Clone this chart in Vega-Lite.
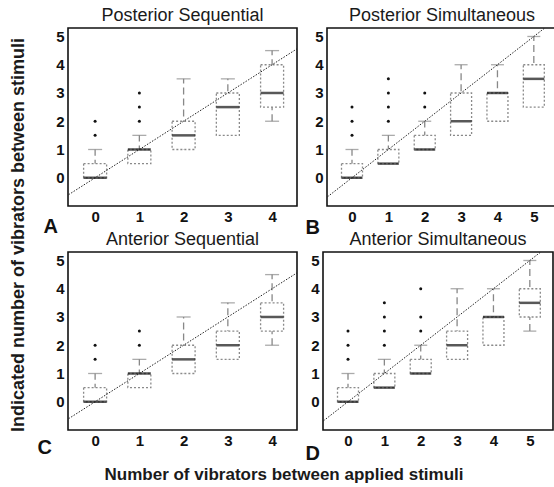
{
  "$schema": "https://vega.github.io/schema/vega-lite/v6.json",
  "padding": {"left": 10, "top": 6, "right": 0, "bottom": 0},
  "background": "white",
  "datasets": {
    "boxes": [
      {"panel": "A", "x": 0, "wlo": 0, "q1": 0, "med": 0, "q3": 0.5, "whi": 1},
      {"panel": "A", "x": 1, "wlo": 0.5, "q1": 0.5, "med": 1, "q3": 1, "whi": 1.5},
      {"panel": "A", "x": 2, "wlo": 1, "q1": 1, "med": 1.5, "q3": 2, "whi": 3.5},
      {"panel": "A", "x": 3, "wlo": 1.5, "q1": 1.5, "med": 2.5, "q3": 3, "whi": 3.5},
      {"panel": "A", "x": 4, "wlo": 2, "q1": 2.5, "med": 3, "q3": 4, "whi": 4.5},
      {"panel": "B", "x": 0, "wlo": 0, "q1": 0, "med": 0, "q3": 0.5, "whi": 1},
      {"panel": "B", "x": 1, "wlo": 0.5, "q1": 0.5, "med": 0.5, "q3": 1, "whi": 1.5},
      {"panel": "B", "x": 2, "wlo": 1, "q1": 1, "med": 1, "q3": 1.5, "whi": 2},
      {"panel": "B", "x": 3, "wlo": 1.5, "q1": 1.5, "med": 2, "q3": 3, "whi": 4},
      {"panel": "B", "x": 4, "wlo": 2, "q1": 2, "med": 3, "q3": 3, "whi": 4},
      {"panel": "B", "x": 5, "wlo": 2.5, "q1": 2.5, "med": 3.5, "q3": 4, "whi": 5},
      {"panel": "C", "x": 0, "wlo": 0, "q1": 0, "med": 0, "q3": 0.5, "whi": 1},
      {"panel": "C", "x": 1, "wlo": 0.5, "q1": 0.5, "med": 1, "q3": 1, "whi": 1.5},
      {"panel": "C", "x": 2, "wlo": 1, "q1": 1, "med": 1.5, "q3": 2, "whi": 3},
      {"panel": "C", "x": 3, "wlo": 1.5, "q1": 1.5, "med": 2, "q3": 2.5, "whi": 3.5},
      {"panel": "C", "x": 4, "wlo": 2, "q1": 2.5, "med": 3, "q3": 3.5, "whi": 4.5},
      {"panel": "D", "x": 0, "wlo": 0, "q1": 0, "med": 0, "q3": 0.5, "whi": 1},
      {"panel": "D", "x": 1, "wlo": 0.5, "q1": 0.5, "med": 0.5, "q3": 1, "whi": 1.5},
      {"panel": "D", "x": 2, "wlo": 1, "q1": 1, "med": 1, "q3": 1.5, "whi": 2},
      {"panel": "D", "x": 3, "wlo": 1.5, "q1": 1.5, "med": 2, "q3": 2.5, "whi": 4},
      {"panel": "D", "x": 4, "wlo": 2, "q1": 2, "med": 3, "q3": 3, "whi": 4},
      {"panel": "D", "x": 5, "wlo": 2.5, "q1": 3, "med": 3.5, "q3": 4, "whi": 5}
    ],
    "outliers": [
      {"panel": "A", "x": 0, "y": 1.5}, {"panel": "A", "x": 0, "y": 2},
      {"panel": "A", "x": 1, "y": 2}, {"panel": "A", "x": 1, "y": 2.5}, {"panel": "A", "x": 1, "y": 3},
      {"panel": "B", "x": 0, "y": 1.5}, {"panel": "B", "x": 0, "y": 2}, {"panel": "B", "x": 0, "y": 2.5},
      {"panel": "B", "x": 1, "y": 2}, {"panel": "B", "x": 1, "y": 2.5}, {"panel": "B", "x": 1, "y": 3}, {"panel": "B", "x": 1, "y": 3.5},
      {"panel": "B", "x": 2, "y": 2.5}, {"panel": "B", "x": 2, "y": 3},
      {"panel": "C", "x": 0, "y": 1.5}, {"panel": "C", "x": 0, "y": 2},
      {"panel": "C", "x": 1, "y": 2}, {"panel": "C", "x": 1, "y": 2.5},
      {"panel": "D", "x": 0, "y": 1.5}, {"panel": "D", "x": 0, "y": 2}, {"panel": "D", "x": 0, "y": 2.5},
      {"panel": "D", "x": 1, "y": 2}, {"panel": "D", "x": 1, "y": 2.5}, {"panel": "D", "x": 1, "y": 3}, {"panel": "D", "x": 1, "y": 3.5},
      {"panel": "D", "x": 2, "y": 2.5}, {"panel": "D", "x": 2, "y": 3}, {"panel": "D", "x": 2, "y": 4}
    ],
    "diag": [{"x": -1, "y": -1}, {"x": 7, "y": 7}]
  },
  "title": {"text": "Number of vibrators between applied stimuli", "orient": "bottom", "anchor": "middle", "fontSize": 17, "fontWeight": "bold", "color": "#1a1a1a", "offset": 3},
  "vconcat": [
    {
      "title": {"text": "Indicated number of vibrators between stimuli", "orient": "left", "anchor": "middle", "fontSize": 18, "fontWeight": "bold", "color": "#1a1a1a", "offset": 8},
      "spacing": -8,
      "vconcat": [
        {
          "spacing": 6,
          "hconcat": [
            {
              "width": 229, "height": 178,
              "title": {"text": "Posterior Sequential", "frame": "group", "fontSize": 18, "fontWeight": "normal", "color": "#1a1a1a", "offset": 3},
              "encoding": {"x": {"field": "x", "type": "quantitative", "scale": {"domain": [-0.5, 4.45], "nice": false, "zero": false}, "axis": {"values": [0, 1, 2, 3, 4], "title": "A", "titleX": -25, "titleY": 26}}},
              "layer": [
                {"data": {"name": "boxes"}, "transform": [{"filter": "datum.panel == 'A'"}], "mark": {"type": "rule", "color": "#888888", "strokeDash": [7, 4], "strokeWidth": 1.3}, "encoding": {"y": {"field": "wlo", "type": "quantitative", "scale": {"domain": [-1, 5.3], "nice": false}, "axis": {"values": [0, 1, 2, 3, 4, 5]}, "title": null}, "y2": {"field": "whi"}}},
                {"data": {"name": "boxes"}, "transform": [{"filter": "datum.panel == 'A' && datum.whi > datum.q3"}], "mark": {"type": "tick", "orient": "horizontal", "color": "#888888", "size": 14, "thickness": 1.3}, "encoding": {"y": {"field": "whi", "type": "quantitative", "scale": {"domain": [-1, 5.3], "nice": false}, "axis": {"values": [0, 1, 2, 3, 4, 5]}, "title": null}}},
                {"data": {"name": "boxes"}, "transform": [{"filter": "datum.panel == 'A' && datum.wlo < datum.q1"}], "mark": {"type": "tick", "orient": "horizontal", "color": "#888888", "size": 14, "thickness": 1.3}, "encoding": {"y": {"field": "wlo", "type": "quantitative", "scale": {"domain": [-1, 5.3], "nice": false}, "axis": {"values": [0, 1, 2, 3, 4, 5]}, "title": null}}},
                {"data": {"name": "boxes"}, "transform": [{"filter": "datum.panel == 'A'"}], "mark": {"type": "bar", "width": 23, "fill": "white", "stroke": "#8a8a8a", "strokeDash": [2, 2], "strokeWidth": 1.3}, "encoding": {"y": {"field": "q1", "type": "quantitative", "scale": {"domain": [-1, 5.3], "nice": false}, "axis": {"values": [0, 1, 2, 3, 4, 5]}, "title": null}, "y2": {"field": "q3"}}},
                {"data": {"name": "boxes"}, "transform": [{"filter": "datum.panel == 'A'"}], "mark": {"type": "tick", "orient": "horizontal", "color": "#111111", "size": 23, "thickness": 2.5}, "encoding": {"y": {"field": "med", "type": "quantitative", "scale": {"domain": [-1, 5.3], "nice": false}, "axis": {"values": [0, 1, 2, 3, 4, 5]}, "title": null}}},
                {"data": {"name": "outliers"}, "transform": [{"filter": "datum.panel == 'A'"}], "mark": {"type": "circle", "color": "#111111", "size": 9, "opacity": 1}, "encoding": {"y": {"field": "y", "type": "quantitative", "scale": {"domain": [-1, 5.3], "nice": false}, "axis": {"values": [0, 1, 2, 3, 4, 5]}, "title": null}}},
                {"data": {"name": "diag"}, "mark": {"type": "line", "clip": true, "color": "#222222", "strokeDash": [1.5, 1.5], "strokeWidth": 1}, "encoding": {"y": {"field": "y", "type": "quantitative", "scale": {"domain": [-1, 5.3], "nice": false}, "axis": {"values": [0, 1, 2, 3, 4, 5]}, "title": null}}}
              ]
            },
            {
              "width": 230, "height": 178,
              "title": {"text": "Posterior Simultaneous", "frame": "group", "fontSize": 18, "fontWeight": "normal", "color": "#1a1a1a", "offset": 3},
              "encoding": {"x": {"field": "x", "type": "quantitative", "scale": {"domain": [-0.55, 5.5], "nice": false, "zero": false}, "axis": {"values": [0, 1, 2, 3, 4, 5], "title": "B", "titleX": -22, "titleY": 27}}},
              "layer": [
                {"data": {"name": "boxes"}, "transform": [{"filter": "datum.panel == 'B'"}], "mark": {"type": "rule", "color": "#888888", "strokeDash": [7, 4], "strokeWidth": 1.3}, "encoding": {"y": {"field": "wlo", "type": "quantitative", "scale": {"domain": [-1, 5.3], "nice": false}, "axis": {"values": [0, 1, 2, 3, 4, 5]}, "title": null}, "y2": {"field": "whi"}}},
                {"data": {"name": "boxes"}, "transform": [{"filter": "datum.panel == 'B' && datum.whi > datum.q3"}], "mark": {"type": "tick", "orient": "horizontal", "color": "#888888", "size": 13, "thickness": 1.3}, "encoding": {"y": {"field": "whi", "type": "quantitative", "scale": {"domain": [-1, 5.3], "nice": false}, "axis": {"values": [0, 1, 2, 3, 4, 5]}, "title": null}}},
                {"data": {"name": "boxes"}, "transform": [{"filter": "datum.panel == 'B' && datum.wlo < datum.q1"}], "mark": {"type": "tick", "orient": "horizontal", "color": "#888888", "size": 13, "thickness": 1.3}, "encoding": {"y": {"field": "wlo", "type": "quantitative", "scale": {"domain": [-1, 5.3], "nice": false}, "axis": {"values": [0, 1, 2, 3, 4, 5]}, "title": null}}},
                {"data": {"name": "boxes"}, "transform": [{"filter": "datum.panel == 'B'"}], "mark": {"type": "bar", "width": 21, "fill": "white", "stroke": "#8a8a8a", "strokeDash": [2, 2], "strokeWidth": 1.3}, "encoding": {"y": {"field": "q1", "type": "quantitative", "scale": {"domain": [-1, 5.3], "nice": false}, "axis": {"values": [0, 1, 2, 3, 4, 5]}, "title": null}, "y2": {"field": "q3"}}},
                {"data": {"name": "boxes"}, "transform": [{"filter": "datum.panel == 'B'"}], "mark": {"type": "tick", "orient": "horizontal", "color": "#111111", "size": 21, "thickness": 2.5}, "encoding": {"y": {"field": "med", "type": "quantitative", "scale": {"domain": [-1, 5.3], "nice": false}, "axis": {"values": [0, 1, 2, 3, 4, 5]}, "title": null}}},
                {"data": {"name": "outliers"}, "transform": [{"filter": "datum.panel == 'B'"}], "mark": {"type": "circle", "color": "#111111", "size": 9, "opacity": 1}, "encoding": {"y": {"field": "y", "type": "quantitative", "scale": {"domain": [-1, 5.3], "nice": false}, "axis": {"values": [0, 1, 2, 3, 4, 5]}, "title": null}}},
                {"data": {"name": "diag"}, "mark": {"type": "line", "clip": true, "color": "#222222", "strokeDash": [1.5, 1.5], "strokeWidth": 1}, "encoding": {"y": {"field": "y", "type": "quantitative", "scale": {"domain": [-1, 5.3], "nice": false}, "axis": {"values": [0, 1, 2, 3, 4, 5]}, "title": null}}}
              ]
            }
          ]
        },
        {
          "spacing": 6,
          "hconcat": [
            {
              "width": 229, "height": 178,
              "title": {"text": "Anterior Sequential", "frame": "group", "fontSize": 18, "fontWeight": "normal", "color": "#1a1a1a", "offset": 3},
              "encoding": {"x": {"field": "x", "type": "quantitative", "scale": {"domain": [-0.5, 4.45], "nice": false, "zero": false}, "axis": {"values": [0, 1, 2, 3, 4], "title": "C", "titleX": -31, "titleY": 23}}},
              "layer": [
                {"data": {"name": "boxes"}, "transform": [{"filter": "datum.panel == 'C'"}], "mark": {"type": "rule", "color": "#888888", "strokeDash": [7, 4], "strokeWidth": 1.3}, "encoding": {"y": {"field": "wlo", "type": "quantitative", "scale": {"domain": [-1, 5.3], "nice": false}, "axis": {"values": [0, 1, 2, 3, 4, 5]}, "title": null}, "y2": {"field": "whi"}}},
                {"data": {"name": "boxes"}, "transform": [{"filter": "datum.panel == 'C' && datum.whi > datum.q3"}], "mark": {"type": "tick", "orient": "horizontal", "color": "#888888", "size": 14, "thickness": 1.3}, "encoding": {"y": {"field": "whi", "type": "quantitative", "scale": {"domain": [-1, 5.3], "nice": false}, "axis": {"values": [0, 1, 2, 3, 4, 5]}, "title": null}}},
                {"data": {"name": "boxes"}, "transform": [{"filter": "datum.panel == 'C' && datum.wlo < datum.q1"}], "mark": {"type": "tick", "orient": "horizontal", "color": "#888888", "size": 14, "thickness": 1.3}, "encoding": {"y": {"field": "wlo", "type": "quantitative", "scale": {"domain": [-1, 5.3], "nice": false}, "axis": {"values": [0, 1, 2, 3, 4, 5]}, "title": null}}},
                {"data": {"name": "boxes"}, "transform": [{"filter": "datum.panel == 'C'"}], "mark": {"type": "bar", "width": 23, "fill": "white", "stroke": "#8a8a8a", "strokeDash": [2, 2], "strokeWidth": 1.3}, "encoding": {"y": {"field": "q1", "type": "quantitative", "scale": {"domain": [-1, 5.3], "nice": false}, "axis": {"values": [0, 1, 2, 3, 4, 5]}, "title": null}, "y2": {"field": "q3"}}},
                {"data": {"name": "boxes"}, "transform": [{"filter": "datum.panel == 'C'"}], "mark": {"type": "tick", "orient": "horizontal", "color": "#111111", "size": 23, "thickness": 2.5}, "encoding": {"y": {"field": "med", "type": "quantitative", "scale": {"domain": [-1, 5.3], "nice": false}, "axis": {"values": [0, 1, 2, 3, 4, 5]}, "title": null}}},
                {"data": {"name": "outliers"}, "transform": [{"filter": "datum.panel == 'C'"}], "mark": {"type": "circle", "color": "#111111", "size": 9, "opacity": 1}, "encoding": {"y": {"field": "y", "type": "quantitative", "scale": {"domain": [-1, 5.3], "nice": false}, "axis": {"values": [0, 1, 2, 3, 4, 5]}, "title": null}}},
                {"data": {"name": "diag"}, "mark": {"type": "line", "clip": true, "color": "#222222", "strokeDash": [1.5, 1.5], "strokeWidth": 1}, "encoding": {"y": {"field": "y", "type": "quantitative", "scale": {"domain": [-1, 5.3], "nice": false}, "axis": {"values": [0, 1, 2, 3, 4, 5]}, "title": null}}}
              ]
            },
            {
              "width": 230, "height": 178,
              "title": {"text": "Anterior Simultaneous", "frame": "group", "fontSize": 18, "fontWeight": "normal", "color": "#1a1a1a", "offset": 3},
              "encoding": {"x": {"field": "x", "type": "quantitative", "scale": {"domain": [-0.55, 5.5], "nice": false, "zero": false}, "axis": {"values": [0, 1, 2, 3, 4, 5], "title": "D", "titleX": -18, "titleY": 29}}},
              "layer": [
                {"data": {"name": "boxes"}, "transform": [{"filter": "datum.panel == 'D'"}], "mark": {"type": "rule", "color": "#888888", "strokeDash": [7, 4], "strokeWidth": 1.3}, "encoding": {"y": {"field": "wlo", "type": "quantitative", "scale": {"domain": [-1, 5.3], "nice": false}, "axis": {"values": [0, 1, 2, 3, 4, 5]}, "title": null}, "y2": {"field": "whi"}}},
                {"data": {"name": "boxes"}, "transform": [{"filter": "datum.panel == 'D' && datum.whi > datum.q3"}], "mark": {"type": "tick", "orient": "horizontal", "color": "#888888", "size": 13, "thickness": 1.3}, "encoding": {"y": {"field": "whi", "type": "quantitative", "scale": {"domain": [-1, 5.3], "nice": false}, "axis": {"values": [0, 1, 2, 3, 4, 5]}, "title": null}}},
                {"data": {"name": "boxes"}, "transform": [{"filter": "datum.panel == 'D' && datum.wlo < datum.q1"}], "mark": {"type": "tick", "orient": "horizontal", "color": "#888888", "size": 13, "thickness": 1.3}, "encoding": {"y": {"field": "wlo", "type": "quantitative", "scale": {"domain": [-1, 5.3], "nice": false}, "axis": {"values": [0, 1, 2, 3, 4, 5]}, "title": null}}},
                {"data": {"name": "boxes"}, "transform": [{"filter": "datum.panel == 'D'"}], "mark": {"type": "bar", "width": 21, "fill": "white", "stroke": "#8a8a8a", "strokeDash": [2, 2], "strokeWidth": 1.3}, "encoding": {"y": {"field": "q1", "type": "quantitative", "scale": {"domain": [-1, 5.3], "nice": false}, "axis": {"values": [0, 1, 2, 3, 4, 5]}, "title": null}, "y2": {"field": "q3"}}},
                {"data": {"name": "boxes"}, "transform": [{"filter": "datum.panel == 'D'"}], "mark": {"type": "tick", "orient": "horizontal", "color": "#111111", "size": 21, "thickness": 2.5}, "encoding": {"y": {"field": "med", "type": "quantitative", "scale": {"domain": [-1, 5.3], "nice": false}, "axis": {"values": [0, 1, 2, 3, 4, 5]}, "title": null}}},
                {"data": {"name": "outliers"}, "transform": [{"filter": "datum.panel == 'D'"}], "mark": {"type": "circle", "color": "#111111", "size": 9, "opacity": 1}, "encoding": {"y": {"field": "y", "type": "quantitative", "scale": {"domain": [-1, 5.3], "nice": false}, "axis": {"values": [0, 1, 2, 3, 4, 5]}, "title": null}}},
                {"data": {"name": "diag"}, "mark": {"type": "line", "clip": true, "color": "#222222", "strokeDash": [1.5, 1.5], "strokeWidth": 1}, "encoding": {"y": {"field": "y", "type": "quantitative", "scale": {"domain": [-1, 5.3], "nice": false}, "axis": {"values": [0, 1, 2, 3, 4, 5]}, "title": null}}}
              ]
            }
          ]
        }
      ]
    }
  ],
  "config": {
    "font": "Liberation Sans",
    "view": {"stroke": "#111111", "strokeWidth": 1.6},
    "axis": {
      "grid": false, "domain": false, "ticks": false,
      "labelFontSize": 15, "labelFontWeight": "bold", "labelColor": "#111111", "labelPadding": 3,
      "labelOverlap": false,
      "titleFontSize": 20, "titleFontWeight": "bold", "titleColor": "#111111",
      "titleAngle": 0, "titleAlign": "left", "titleBaseline": "alphabetic", "titlePadding": 0
    },
    "axisY": {"labelPadding": 4, "labelOverlap": false}
  }
}
